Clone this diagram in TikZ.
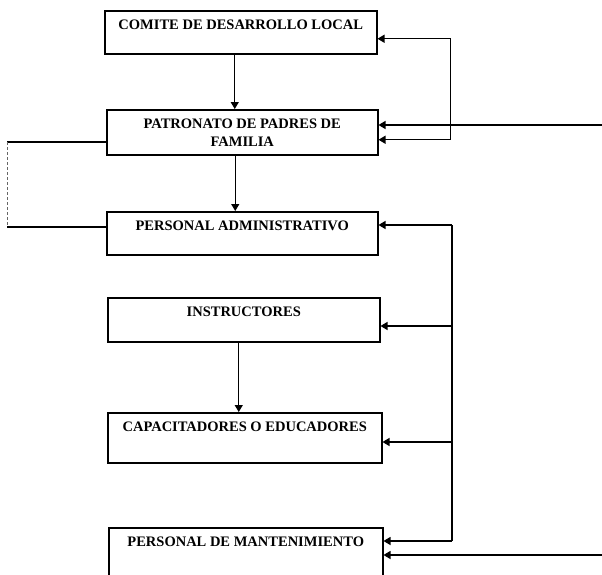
\documentclass[tikz,border=0pt]{standalone}
\usepackage{fontspec}
\setmainfont{Liberation Serif}
\usetikzlibrary{arrows.meta}
\newcommand{\cajatxt}[3]{\parbox[c][#1][t]{#2}{\centering\vspace*{9pt}#3}}
\begin{document}
\begin{tikzpicture}[x=1pt,y=-1pt]
    \useasboundingbox (0,0) rectangle (602,574);
    \clip (0,0) rectangle (602,574);
    \def\bw{272pt}
    \tikzstyle{unidad}=[draw, line width=1.5pt, inner sep=0pt, anchor=north west, font=\fontsize{14.5}{18}\selectfont\bfseries]
    \tikzstyle{flecha}=[-{Triangle[length=7pt,width=8pt]}, line width=1.2pt]
    \tikzstyle{doble}=[{Triangle[length=7pt,width=8pt]}-{Triangle[length=7pt,width=8pt]}, line width=1.2pt]
    \tikzstyle{linea}=[line width=1.2pt]
    \tikzstyle{tenue}=[line width=0.5pt, densely dashed, black!60]

    \node[unidad] (comite) at (104,10) {\cajatxt{43pt}{\bw}{COMITE DE DESARROLLO LOCAL}};
    \node[unidad] (patronato) at (106,109) {\cajatxt{45pt}{271pt}{PATRONATO DE PADRES DE\\FAMILIA}};
    \node[unidad] (personal) at (106,211) {\cajatxt{43pt}{271pt}{PERSONAL ADMINISTRATIVO}};
    \node[unidad] (instructores) at (107,297) {\cajatxt{44pt}{\bw}{INSTRUCTORES}};
    \node[unidad] (capacitadores) at (107,412) {\cajatxt{50pt}{274pt}{CAPACITADORES O EDUCADORES}};
    \node[unidad] (mantenimiento) at (108,527) {\cajatxt{60pt}{274pt}{PERSONAL DE MANTENIMIENTO}};

    % entradas libres
    \coordinate (derA) at (602,125);
    \coordinate (derB) at (602,555);
    \coordinate (izqA) at (7,142);
    \coordinate (izqB) at (7,227);
    \coordinate (bus1) at (452,225);
    \coordinate (bus2) at (452,326);
    \coordinate (bus3) at (452,442);
    \coordinate (bus4) at (452,541);

    % linea de mando
    \draw [flecha] ([xshift=-6pt]comite.south) -- ([xshift=-6pt]comite.south |- patronato.north);
    \draw [flecha] ([xshift=-7pt]patronato.south) -- ([xshift=-7pt]patronato.south |- personal.north);
    \draw [flecha] ([xshift=-5pt]instructores.south) -- ([xshift=-5pt]instructores.south |- capacitadores.north);

    \draw [doble] ([yshift=-6.5pt]comite.east) -- ++(73,0) |- ([yshift=-7.5pt]patronato.east);
    \draw [flecha] (derA) -- (patronato.east |- derA);

    \draw [linea] (patronato.west |- izqA) -- (izqA);
    \draw [tenue] (izqA) -- (izqB);
    \draw [linea] (izqB) -- (personal.west |- izqB);

    \draw [linea] (bus1) -- (bus4);
    \draw [flecha] (bus1) -- (personal.east |- bus1);
    \draw [flecha] (bus2) -- (instructores.east |- bus2);
    \draw [flecha] (bus3) -- (capacitadores.east |- bus3);
    \draw [flecha] (bus4) -- (mantenimiento.east |- bus4);
    \draw [flecha] (derB) -- (mantenimiento.east |- derB);
\end{tikzpicture}
\end{document}
